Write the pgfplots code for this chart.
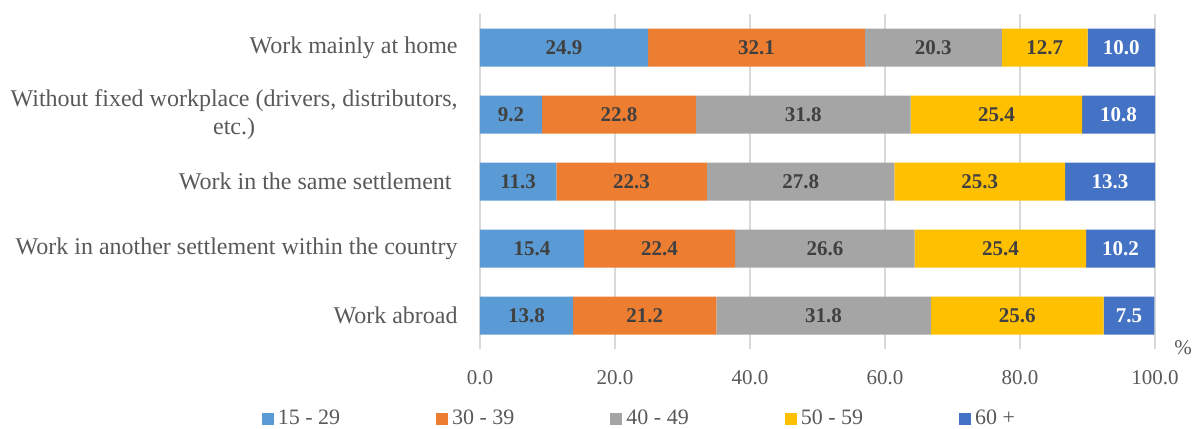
\documentclass[border=0pt]{standalone}
\usepackage{pgfplots}
\pgfplotsset{compat=1.18}
\usepackage{pgfplotstable}
\usepackage{fontspec}
\setmainfont{Liberation Serif}
\definecolor{c1}{HTML}{5B9BD5}
\definecolor{c2}{HTML}{ED7D31}
\definecolor{c3}{HTML}{A5A5A5}
\definecolor{c4}{HTML}{FFC000}
\definecolor{c5}{HTML}{4472C4}
\definecolor{txt}{HTML}{595959}
\definecolor{lbl}{HTML}{404040}
\definecolor{gridc}{HTML}{D9D9D9}
\pgfplotstableread{
y a b c d e
0 13.8 21.2 31.8 25.6 7.5
1 15.4 22.4 26.6 25.4 10.2
2 11.3 22.3 27.8 25.3 13.3
3 9.2 22.8 31.8 25.4 10.8
4 24.9 32.1 20.3 12.7 10.0
}\data
\begin{document}
\begin{tikzpicture}
\useasboundingbox (-240pt,-39.5pt) rectangle (356pt,174.5pt);
\begin{axis}[
  at={(0,0)}, anchor=south west,
  scale only axis, width=337.5pt, height=167.5pt,
  xbar stacked, bar width=19pt,
  xmin=0, xmax=100, ymin=-0.5, ymax=4.5,
  axis line style={draw=none},
  xtick={0,20,...,100},
  xticklabels={0.0,20.0,40.0,60.0,80.0,100.0},
  ytick={0,...,4},
  yticklabels={Work abroad, Work in another settlement within the country, Work in the same settlement\ , {Without fixed workplace (drivers, distributors,\\etc.)}, Work mainly at home},
  major tick length=0pt,
  xmajorgrids, ymajorgrids=false,
  grid style={draw=gridc, line width=0.75pt},
  xticklabel style={font=\fontsize{10.5}{12}\selectfont, text=txt, anchor=center, yshift=-14.5pt, inner sep=0pt},
  yticklabel style={font=\fontsize{12}{14}\selectfont, text=txt, anchor=east, xshift=-11pt, inner sep=0pt, align=center},
  xlabel={\%},
  xlabel style={at={(axis description cs:1,0)}, anchor=center, xshift=14pt, yshift=0.5pt, font=\fontsize{10.5}{12}\selectfont, text=txt, inner sep=0pt},
  point meta=explicit,
  nodes near coords={\pgfmathprintnumber[fixed,fixed zerofill,precision=1,assume math mode=true]{\pgfplotspointmeta}},
  nodes near coords style={font=\fontsize{10.5}{12}\selectfont\bfseries, text=lbl, anchor=center},
  every axis plot/.append style={draw=none},
  legend columns=5,
  legend image code/.code={\fill[#1] (0pt,-3pt) rectangle (6pt,3pt);},
  legend style={at={(axis description cs:0,0)}, anchor=west, xshift=-109.3pt, yshift=-35pt, draw=none, fill=none, inner sep=0pt, font=\fontsize{11}{13}\selectfont, text=txt, nodes={inner sep=2pt}, /tikz/every even column/.append style={column sep=46pt}},
]
\addplot[fill=c1] table[x=a, y=y, meta=a]{\data};
\addplot[fill=c2] table[x=b, y=y, meta=b]{\data};
\addplot[fill=c3] table[x=c, y=y, meta=c]{\data};
\addplot[fill=c4] table[x=d, y=y, meta=d]{\data};
\addplot[fill=c5, nodes near coords style={text=white}] table[x=e, y=y, meta=e]{\data};
\legend{15 - 29, 30 - 39, 40 - 49, 50 - 59, 60 +}
\end{axis}
\end{tikzpicture}
\end{document}
